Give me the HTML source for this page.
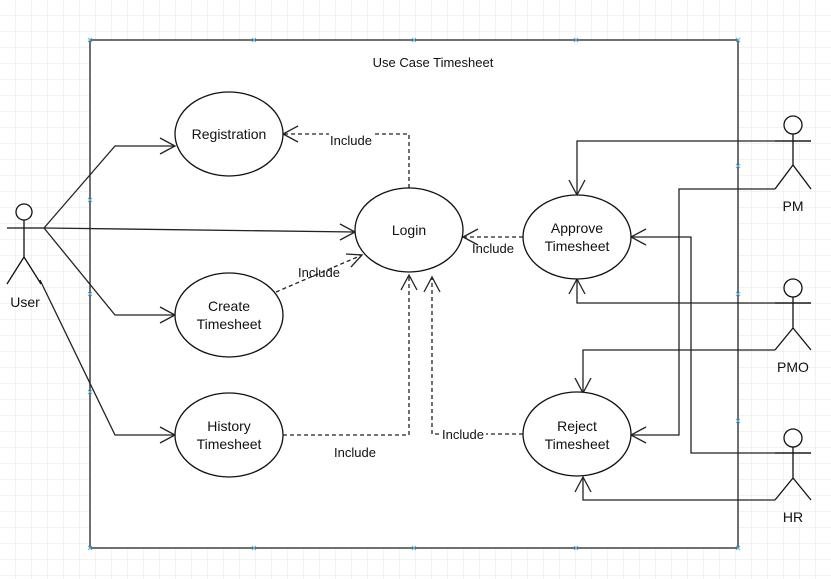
<!DOCTYPE html>
<html><head><style>
html,body{margin:0;padding:0;background:#fff}
svg{display:block}
text{font-family:"Liberation Sans",Arial,sans-serif;font-size:14px;fill:#111}
</style></head><body>
<svg width="831" height="579" viewBox="0 0 831 579" xmlns="http://www.w3.org/2000/svg">
<defs>
<pattern id="g" width="16" height="16" patternUnits="userSpaceOnUse">
<path d="M16 0V16M0 16H16" fill="none" stroke="#e6e6e6" stroke-width="1"/>
</pattern>
</defs>
<rect width="831" height="579" fill="url(#g)"/>
<rect x="90" y="40" width="648" height="508" fill="#fff" stroke="#222" stroke-width="1.3"/>
<g fill="none" stroke="#222" stroke-width="1.3">
<polyline points="44,228 115,146 175,146"/>
<polyline points="44,228 355,232"/>
<polyline points="44,228 115,315 175,315"/>
<polyline points="40,280 115,435 175,435"/>
<polyline points="160,138 175,146 160,154"/>
<polyline points="340,224 355,232 340,240"/>
<polyline points="160,307 175,315 160,323"/>
<polyline points="160,427 175,435 160,443"/>
<polyline points="811,141 577,141 577,195"/>
<polyline points="569,180 577,195 585,180"/>
<polyline points="775,189 679,189 679,435 631,435"/>
<polyline points="646,427 631,435 646,443"/>
<polyline points="811,453 691,453 691,237 631,237"/>
<polyline points="646,229 631,237 646,245"/>
<polyline points="811,303 577,303 577,279"/>
<polyline points="569,294 577,279 585,294"/>
<polyline points="775,350 583,350 583,393"/>
<polyline points="575,378 583,393 591,378"/>
<polyline points="775,500 583,500 583,477"/>
<polyline points="575,492 583,477 591,492"/>
</g>
<g fill="none" stroke="#222" stroke-width="1.3" stroke-dasharray="4,3">
<polyline points="409,188 409,134 283,134"/>
<polyline points="276,292 362,255"/>
<polyline points="283,435 409,435 409,275"/>
<polyline points="523,434 432,434 432,277"/>
<polyline points="523,237 463,237"/>
</g>
<g fill="none" stroke="#222" stroke-width="1.3">
<polyline points="298,126 283,134 298,142"/>
<polyline points="346,254 362,255 351,267"/>
<polyline points="401,290 409,275 417,290"/>
<polyline points="424,292 432,277 440,292"/>
<polyline points="478,229 463,237 478,245"/>
</g>
<g fill="#fff" stroke="#111" stroke-width="1.3">
<ellipse cx="229" cy="134" rx="54" ry="42"/>
<ellipse cx="409" cy="230" rx="54" ry="42"/>
<ellipse cx="229" cy="315" rx="54" ry="42"/>
<ellipse cx="229" cy="435" rx="54" ry="42"/>
<ellipse cx="577" cy="237" rx="54" ry="42"/>
<ellipse cx="577" cy="434" rx="54" ry="42"/>
</g>
<g fill="#fff" stroke="#111" stroke-width="1.3">
<circle cx="24" cy="212" r="8"/>
<path d="M24 220V257M7 228H44M7 284L24 257L41 284" fill="none"/>
<circle cx="793" cy="125" r="9"/>
<path d="M793 134V165M775 141H811M775 189L793 165L811 189" fill="none"/>
<circle cx="793" cy="288" r="9"/>
<path d="M793 297V328M775 303H811M775 350L793 328L811 350" fill="none"/>
<circle cx="793" cy="438" r="9"/>
<path d="M793 447V478M775 453H811M775 500L793 478L811 500" fill="none"/>
</g>
<g text-anchor="middle">
<text x="433" y="67" style="font-size:13px">Use Case Timesheet</text>
<text x="229" y="139">Registration</text>
<text x="409" y="235">Login</text>
<text x="229" y="311">Create</text>
<text x="229" y="329">Timesheet</text>
<text x="229" y="431">History</text>
<text x="229" y="449">Timesheet</text>
<text x="577" y="233">Approve</text>
<text x="577" y="251">Timesheet</text>
<text x="577" y="431">Reject</text>
<text x="577" y="449">Timesheet</text>
<text x="25" y="307">User</text>
<text x="793" y="211">PM</text>
<text x="793" y="372">PMO</text>
<text x="793" y="522">HR</text>
</g>
<g text-anchor="middle">
<rect x="329" y="133" width="44" height="14" fill="#fff"/>
<text x="351" y="145" style="font-size:13px">Include</text>
<text x="319" y="277" style="font-size:13px">Include</text>
<text x="355" y="457" style="font-size:13px">Include</text>
<rect x="440" y="427" width="46" height="14" fill="#fff"/>
<text x="463" y="439" style="font-size:13px">Include</text>
<text x="493" y="253" style="font-size:13px">Include</text>
</g>
<g stroke="#5ab0e0" stroke-width="1">
<path d="M88 38l4 4M92 38l-4 4M88 198l4 4M92 198l-4 4M88 292l4 4M92 292l-4 4M88 390l4 4M92 390l-4 4M88 546l4 4M92 546l-4 4M736 38l4 4M740 38l-4 4M736 164l4 4M740 164l-4 4M736 292l4 4M740 292l-4 4M736 419l4 4M740 419l-4 4M736 546l4 4M740 546l-4 4M252 38l4 4M256 38l-4 4M412 38l4 4M416 38l-4 4M574 38l4 4M578 38l-4 4M252 546l4 4M256 546l-4 4M412 546l4 4M416 546l-4 4M574 546l4 4M578 546l-4 4"/>
</g>
</svg>
</body></html>
